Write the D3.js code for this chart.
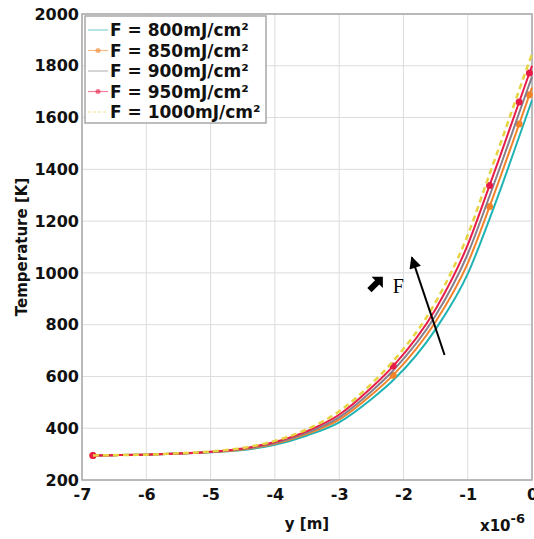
<!DOCTYPE html>
<html>
<head>
  <script src="https://cdn.jsdelivr.net/npm/d3@7"></script>
  <style>
    body { margin: 0; background: #fff; }
    text { font-family: "DejaVu Sans", Verdana, sans-serif; font-weight: bold; }
  </style>
</head>
<body>
  <div id="chart"></div>
<script>
  // depth positions (x10^-6 m)
  const yPos = [-6.83, -6.5, -6, -5.5, -5, -4.5, -4, -3.5, -3, -2.5, -2.16, -1.5, -1, -0.66, -0.5, -0.2, -0.04, 0];
  // temperature profiles [K] per fluence
  const t800  = [295, 296, 298, 302, 307, 316, 336, 372, 423, 512, 585, 782,  996, 1209, 1316, 1526, 1639, 1667];
  const t850  = [295, 296, 298, 302, 308, 318, 340, 378, 433, 528, 605, 811, 1037, 1256, 1365, 1575, 1688, 1716];
  const t900  = [295, 296, 298, 302, 308, 320, 343, 383, 442, 542, 623, 835, 1073, 1297, 1406, 1618, 1730, 1758];
  const t950  = [295, 296, 298, 302, 309, 322, 347, 389, 452, 556, 640, 860, 1108, 1338, 1448, 1660, 1772, 1800];
  const t1000 = [295, 296, 298, 303, 310, 324, 351, 396, 465, 571, 659, 887, 1146, 1382, 1493, 1706, 1818, 1846];
  const labels = ["F = 800mJ/cm²", "F = 850mJ/cm²", "F = 900mJ/cm²", "F = 950mJ/cm²", "F = 1000mJ/cm²"];
  const xTicks = [-7, -6, -5, -4, -3, -2, -1, 0];
  const yTicks = [200, 400, 600, 800, 1000, 1200, 1400, 1600, 1800, 2000];
  const markerIdx = [0, 10, 13, 15, 16];

  const series = [
    {name: labels[0], vals: t800,  color: "#1fb3b3", dash: null, marks: false},
    {name: labels[1], vals: t850,  color: "#f2832a", dash: null, marks: true},
    {name: labels[2], vals: t900,  color: "#877f8c", dash: null, marks: false},
    {name: labels[3], vals: t950,  color: "#e81c48", dash: null, marks: true},
    {name: labels[4], vals: t1000, color: "#e6d443", dash: "6,4", marks: false}
  ];

  const W = 534, H = 539;
  const margin = {top: 14, right: 2, bottom: 59, left: 82},
        width = W - margin.left - margin.right,
        height = H - margin.top - margin.bottom;

  const svg = d3.select("#chart").append("svg")
      .attr("width", W).attr("height", H);
  const g = svg.append("g")
      .attr("transform", "translate(" + margin.left + "," + margin.top + ")");

  const x = d3.scaleLinear().domain([-7, 0]).range([0, width]);
  const y = d3.scaleLinear().domain([200, 2000]).range([height, 0]);

  // grid
  g.append("g").selectAll("line").data(xTicks).enter().append("line")
      .attr("x1", d => x(d)).attr("x2", d => x(d))
      .attr("y1", 0).attr("y2", height)
      .attr("stroke", "#dcdcdc").attr("stroke-width", 1);
  g.append("g").selectAll("line").data(yTicks).enter().append("line")
      .attr("y1", d => y(d)).attr("y2", d => y(d))
      .attr("x1", 0).attr("x2", width)
      .attr("stroke", "#dcdcdc").attr("stroke-width", 1);

  // axes
  const xAxis = g.append("g")
      .attr("transform", "translate(0," + height + ")")
      .call(d3.axisBottom(x).tickValues(xTicks).tickSize(0).tickPadding(14).tickFormat(d => String(d)));
  const yAxis = g.append("g")
      .call(d3.axisLeft(y).tickValues(yTicks).tickSize(0).tickPadding(3).tickFormat(d => String(d)));
  [xAxis, yAxis].forEach(a => {
    a.select(".domain").remove();
    a.selectAll("text").attr("font-size", 16).attr("fill", "#111")
      .style("font-family", "'DejaVu Sans', sans-serif").style("font-weight", "bold");
  });
  xAxis.selectAll("text").attr("dy", "0.4em");

  // frame
  g.append("rect").attr("width", width).attr("height", height)
      .attr("fill", "none").attr("stroke", "#a8a8a8").attr("stroke-width", 1.5);

  // curves
  const line = d3.line()
      .x((d, i) => x(yPos[i]))
      .y(d => y(d))
      .curve(d3.curveMonotoneX);

  series.forEach(s => {
    g.append("path")
      .attr("d", line(s.vals))
      .attr("fill", "none")
      .attr("stroke", s.color)
      .attr("stroke-width", s.dash ? 2.5 : 2)
      .attr("stroke-dasharray", s.dash);
    if (s.marks) {
      g.selectAll(null).data(markerIdx).enter().append("circle")
        .attr("cx", i => x(yPos[i]))
        .attr("cy", i => y(s.vals[i]))
        .attr("r", 3.5)
        .attr("fill", s.color);
    }
  });

  // annotation arrow
  svg.append("defs").append("marker")
      .attr("id", "head").attr("viewBox", "0 0 10 10")
      .attr("refX", 9).attr("refY", 5)
      .attr("markerWidth", 6.5).attr("markerHeight", 6)
      .attr("markerUnits", "strokeWidth")
      .attr("orient", "auto")
    .append("path").attr("d", "M0,0 L10,5 L0,10 Z").attr("fill", "#000");
  g.append("line")
      .attr("x1", x(-1.36)).attr("y1", y(683))
      .attr("x2", x(-1.87)).attr("y2", y(1060))
      .attr("stroke", "#000").attr("stroke-width", 2)
      .attr("marker-end", "url(#head)");

  // small bold arrow + F
  const ax = x(-2.43), ay = y(958);
  g.append("path")
      .attr("transform", "translate(" + ax + "," + ay + ") rotate(-45)")
      .attr("d", "M-9,-3 L2,-3 L2,-8 L10,0 L2,8 L2,3 L-9,3 Z")
      .attr("fill", "#000");
  g.append("text")
      .attr("x", ax + 17).attr("y", ay + 9)
      .attr("font-size", 20)
      .style("font-family", "'Liberation Serif', 'Times New Roman', serif")
      .style("font-weight", "normal")
      .text("F");

  // legend
  const lg = svg.append("g").attr("transform", "translate(85,16)");
  lg.append("rect").attr("width", 181).attr("height", 107)
      .attr("fill", "#fff").attr("stroke", "#a8a8a8").attr("stroke-width", 1.5);
  series.forEach((s, i) => {
    const ry = 14 + i * 20.5;
    lg.append("line")
      .attr("x1", 3).attr("x2", 23).attr("y1", ry).attr("y2", ry)
      .attr("stroke", s.color).attr("stroke-width", 1.2)
      .attr("stroke-dasharray", s.dash ? "3,2" : null)
      .attr("opacity", 0.55);
    if (s.marks) {
      lg.append("circle").attr("cx", 13).attr("cy", ry).attr("r", 2.5)
        .attr("fill", s.color).attr("opacity", 0.6);
    }
    lg.append("text")
      .attr("x", 25).attr("y", ry + 6)
      .attr("font-size", 17).attr("fill", "#111")
      .text(s.name);
  });

  // axis titles
  svg.append("text")
      .attr("x", 307).attr("y", 529)
      .attr("text-anchor", "middle")
      .attr("font-size", 15).attr("fill", "#111")
      .text("y [m]");
  const ex = svg.append("text")
      .attr("x", 480).attr("y", 531)
      .attr("font-size", 15).attr("fill", "#111");
  ex.append("tspan").text("x10");
  ex.append("tspan").attr("dy", -8).attr("font-size", 13).text("-6");
  svg.append("text")
      .attr("transform", "translate(27,247) rotate(-90)")
      .attr("text-anchor", "middle")
      .attr("font-size", 15).attr("fill", "#111")
      .text("Temperature [K]");
</script>
</body>
</html>
